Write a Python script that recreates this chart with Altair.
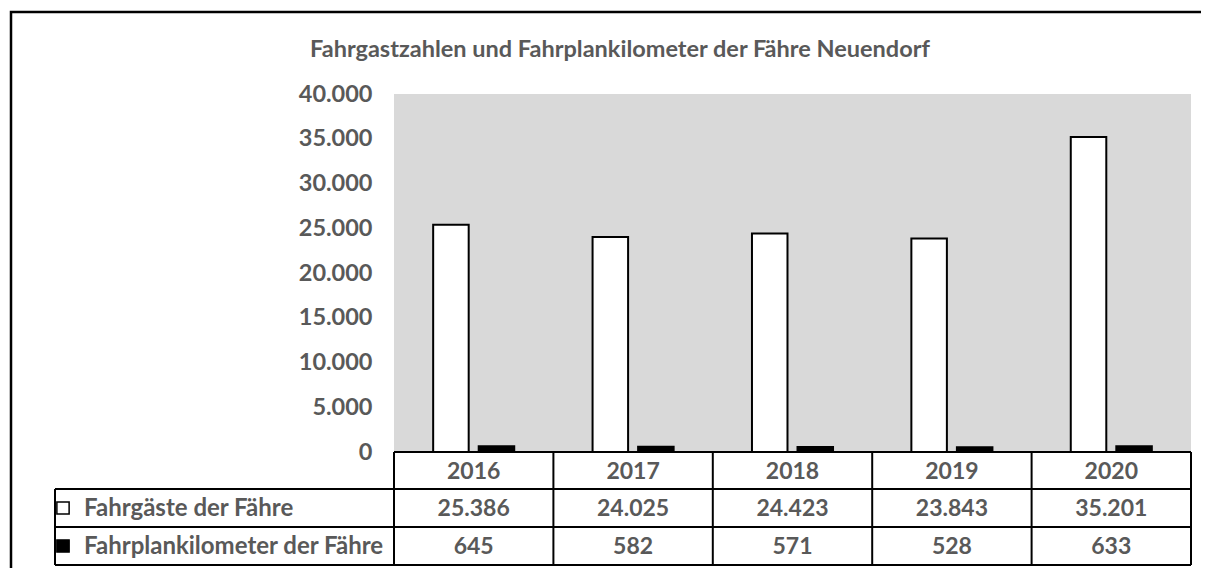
import altair as alt
import pandas as pd

title_text = "Fahrgastzahlen und Fahrplankilometer der Fähre Neuendorf"
years = ["2016", "2017", "2018", "2019", "2020"]
series = ["Fahrgäste der Fähre", "Fahrplankilometer der Fähre"]
fahrgaeste = [25386, 24025, 24423, 23843, 35201]
fahrplankm = [645, 582, 571, 528, 633]
y_ticks = [0, 5000, 10000, 15000, 20000, 25000, 30000, 35000, 40000]

rows = []
for i, y in enumerate(years):
    rows.append({"year": y, "series": series[0], "value": fahrgaeste[i]})
    rows.append({"year": y, "series": series[1], "value": fahrplankm[i]})
df = pd.DataFrame(rows)
df_years = pd.DataFrame({"year": years})
df_series = pd.DataFrame({"series": series, "fill": ["white", "black"], "row": [0, 1]})
one = pd.DataFrame({"a": [0]})

W, H = 797, 358
ROW = [0, 37, 75, 113]
GRAY = "#595959"
FONT = "Lato"
FS = 23

xscale = alt.Scale(domain=years, paddingInner=0, paddingOuter=0)
xenc = alt.X("year:N", scale=xscale, axis=None)

bars = alt.Chart(df).mark_bar(stroke="black", strokeWidth=2).encode(
    x=xenc,
    xOffset=alt.XOffset("series:N", scale=alt.Scale(domain=series, paddingInner=0.22, paddingOuter=0.86)),
    y=alt.Y("value:Q", scale=alt.Scale(domain=[0, 40000], nice=False),
            axis=alt.Axis(values=y_ticks, title=None, domain=False, ticks=False, grid=False,
                          labelExpr="replace(format(datum.value, ','), ',', '.')",
                          labelFont=FONT, labelFontWeight="bold", labelFontSize=23.5,
                          labelColor=GRAY, labelPadding=22)),
    color=alt.Color("series:N", scale=alt.Scale(domain=series, range=["white", "black"]), legend=None),
)

txt = dict(font=FONT, fontWeight="bold", fontSize=FS, color=GRAY, baseline="middle")

year_text = alt.Chart(df_years).mark_text(**txt).encode(
    x=xenc, y=alt.value(H + (ROW[0] + ROW[1]) / 2 + 1), text="year:N")

def value_layer(s, r):
    return alt.Chart(df).transform_filter(alt.datum.series == s).transform_calculate(
        label="replace(format(datum.value, ','), ',', '.')"
    ).mark_text(**txt).encode(
        x=xenc, y=alt.value(H + (ROW[r] + ROW[r + 1]) / 2 + 1), text="label:N")

v1 = value_layer(series[0], 1)
v2 = value_layer(series[1], 2)

hdr = []
for r, s in enumerate(series):
    hdr.append(alt.Chart(df_series).transform_filter(alt.datum.series == s).mark_text(
        align="left", font=FONT, fontWeight="bold", fontSize=24, color=GRAY, baseline="middle").encode(
        x=alt.value(-310), y=alt.value(H + (ROW[r + 1] + ROW[r + 2]) / 2 + 1), text="series:N"))
    hdr.append(alt.Chart(df_series).transform_filter(alt.datum.series == s).mark_point(
        shape="square", filled=True, stroke="black", strokeWidth=1.5, size=150, opacity=1).encode(
        x=alt.value(-331), y=alt.value(H + (ROW[r + 1] + ROW[r + 2]) / 2),
        fill=alt.Fill("fill:N", scale=None)))

LW = 2
hlines = [
    alt.Chart(one).mark_rule(color="black", strokeWidth=LW).encode(
        x=alt.value(0), x2=alt.value(W), y=alt.value(H + ROW[0])),
] + [
    alt.Chart(one).mark_rule(color="black", strokeWidth=LW).encode(
        x=alt.value(-339), x2=alt.value(W), y=alt.value(H + ROW[k])) for k in (1, 2, 3)
]
vlines = [
    alt.Chart(df_years).mark_rule(color="black", strokeWidth=LW).encode(
        x=alt.X("year:N", scale=xscale, axis=None, bandPosition=0),
        y=alt.value(H + ROW[0]), y2=alt.value(H + ROW[3])),
    alt.Chart(one).mark_rule(color="black", strokeWidth=LW).encode(
        x=alt.value(W), y=alt.value(H + ROW[0]), y2=alt.value(H + ROW[3])),
    alt.Chart(one).mark_rule(color="black", strokeWidth=LW).encode(
        x=alt.value(-339), y=alt.value(H + ROW[1]), y2=alt.value(H + ROW[3])),
]

frame = alt.Chart(one).mark_rect(fill="transparent", stroke="black", strokeWidth=2.5).encode(
    x=alt.value(-383), x2=alt.value(W + 60), y=alt.value(-82), y2=alt.value(H + 250))

title = alt.Chart(one).mark_text(align="left", baseline="middle", font=FONT, fontWeight="bold",
                                 fontSize=23.5, color=GRAY).encode(
    x=alt.value(-84), y=alt.value(-44), text=alt.value(title_text))

chart = alt.layer(
    bars, year_text, v1, v2, *hdr, *hlines, *vlines, frame, title
).properties(
    width=W, height=H,
    autosize=alt.AutoSizeParams(type="none"),
    padding={"left": 386, "top": 86, "right": 10, "bottom": 116},
).configure_view(fill="#D9D9D9", strokeWidth=0)

chart.save("out.html", embed_options={"renderer": "svg", "actions": False})
